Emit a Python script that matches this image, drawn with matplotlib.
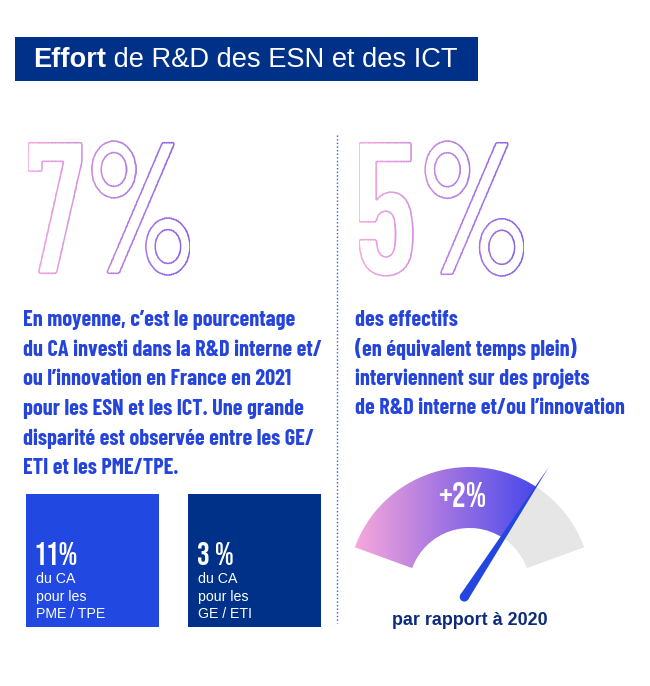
import numpy as np
import matplotlib
matplotlib.use("Agg")
import matplotlib.pyplot as plt
from matplotlib.patches import Rectangle, Wedge, PathPatch, Polygon, Circle
from matplotlib.textpath import TextPath
from matplotlib.font_manager import FontProperties
from matplotlib.transforms import Affine2D

# ---------------- data ----------------
title_bold = "Effort"
title_rest = " de R&D des ESN et des ICT"
big_values = ["7%", "5%"]
left_lines = [
    "En moyenne, c’est le pourcentage",
    "du CA investi dans la R&D interne et/",
    "ou l’innovation en France en 2021",
    "pour les ESN et les ICT. Une grande",
    "disparité est observée entre les GE/",
    "ETI et les PME/TPE.",
]
right_lines = [
    "des effectifs",
    "(en équivalent temps plein)",
    "interviennent sur des projets",
    "de R&D interne et/ou l’innovation",
]
box_values = ["11%", "3 %"]
box_labels = [["du CA", "pour les", "PME / TPE"], ["du CA", "pour les", "GE / ETI"]]
gauge_label = "+2%"
gauge_fill = 0.736
gauge_caption = "par rapport à 2020"

# ---------------- style ----------------
NAVY = "#003189"
BOX_BLUE = "#2148e0"
TEXT_BLUE = "#2544dc"
NEEDLE = "#2446e0"
CAPTION = "#0d2a7c"
GREY = "#e6e6e6"
PINK = np.array([248, 170, 224]) / 255
PURPLE = np.array([136, 98, 228]) / 255

COND = "Barlow Condensed"
NUM = "Bebas Neue"
SANS = "Liberation Sans"

fig = plt.figure(figsize=(6.5, 6.86), dpi=100)
ax = fig.add_axes([0, 0, 1, 1])
ax.set_xlim(0, 650)
ax.set_ylim(686, 0)
ax.axis("off")

# ---------------- title ----------------
ax.add_patch(Rectangle((15, 37), 463, 44, facecolor=NAVY, edgecolor="none", zorder=1))
t1 = ax.text(33, 67, title_bold, family=SANS, weight="bold", fontsize=19.6,
             color="white", va="baseline", ha="left", zorder=2)
renderer = fig.canvas.get_renderer()
bb = t1.get_window_extent(renderer)
ax.text(bb.x1, 67, title_rest, family=SANS, fontsize=19.6, color="white",
        va="baseline", ha="left", zorder=2)


def fit(s, fp, left, top, bottom):
    tp = TextPath((0, 0), s, size=100, prop=fp)
    ext = tp.get_extents()
    scale = (bottom - top) / (ext.y1 - ext.y0)
    x0 = left - ext.x0 * scale
    base = bottom + ext.y0 * scale
    return tp, ext, scale, x0, base


def fitted_text(s, family, weight, left, top, bottom, color, zorder=2):
    fp = FontProperties(family=family, weight=weight)
    tp, ext, scale, x0, base = fit(s, fp, left, top, bottom)
    fp2 = fp.copy()
    fp2.set_size(100 * scale * 72 / 100)
    ax.text(x0, base, s, fontproperties=fp2, color=color, va="baseline",
            ha="left", zorder=zorder)


def outline_text(s, left, right, top, bottom, c0, c1, lw_px=1.5):
    fp = FontProperties(family=COND, weight=600)
    tp, ext, scale, x0, base = fit(s, fp, left, top, bottom)
    fp2 = fp.copy()
    fp2.set_size(100 * scale * 72 / 100)
    # the real text (white on white) underneath the gradient outline
    ax.text(x0, base, s, fontproperties=fp2, color="white", va="baseline",
            ha="left", zorder=2)
    sx = (right - left) / ((ext.x1 - ext.x0) * scale)
    path = tp.transformed(Affine2D().translate(-ext.x0, 0)
                          .scale(scale * sx, -scale).translate(left, base))
    width = right - left
    N = 70
    for i in range(N):
        xa = left + width * i / N - 0.4
        rect = Rectangle((xa, top - 6), width / N + 0.8, bottom - top + 12,
                         transform=ax.transData)
        col = c0 + (c1 - c0) * (i + 0.5) / N
        p = PathPatch(path, facecolor="none", edgecolor=col, lw=lw_px * 0.72, zorder=3)
        ax.add_patch(p)
        p.set_clip_path(rect)


outline_text(big_values[0], 28, 190, 141, 275, PINK, PURPLE)
outline_text(big_values[1], 359, 524, 141, 276, PINK, PURPLE)

# ---------------- divider ----------------
ax.plot([337, 337], [135, 623], color="#3a5bd0", lw=1.0, ls=(0, (1, 1.6)), zorder=1)

# ---------------- body texts ----------------
for i, line in enumerate(left_lines):
    ax.text(23, 320 + 29.6 * i, line, family=COND, weight=700, fontsize=16.0,
            color=TEXT_BLUE, va="center", ha="left", zorder=2)
for i, line in enumerate(right_lines):
    ax.text(355, 320 + 29.4 * i, line, family=COND, weight=700, fontsize=16.0,
            color=TEXT_BLUE, va="center", ha="left", zorder=2)

# ---------------- boxes ----------------
box_x = [26, 188]
box_col = [BOX_BLUE, NAVY]
for k in range(2):
    ax.add_patch(Rectangle((box_x[k], 494), 133, 133, facecolor=box_col[k],
                           edgecolor="none", zorder=1))
    fitted_text(box_values[k], NUM, "normal", box_x[k] + 10, 542, 565, "white")
    for j, lab in enumerate(box_labels[k]):
        ax.text(box_x[k] + 10, 583 + 17.7 * j, lab, family=SANS, fontsize=10.2,
                color="white", va="baseline", ha="left", zorder=2)

# ---------------- gauge ----------------
cx, cy = 469.5, 589.0
R, r = 122.0, 61.0
a_start, a_end = 160.0, 20.0
a_needle = a_start - gauge_fill * (a_start - a_end)

grey = Wedge((cx, cy), R, -a_needle, -a_end, width=R - r, facecolor=GREY,
             edgecolor="none", zorder=1)
ax.add_patch(grey)
wedge = Wedge((cx, cy), R, -a_start, -a_needle, width=R - r, facecolor="none",
              edgecolor="none", zorder=1)
ax.add_patch(wedge)

stops_x = np.array([354, 400, 440, 480, 515, 545])
stops_c = np.array([
    [248, 168, 220],
    [205, 142, 222],
    [165, 118, 226],
    [128, 100, 230],
    [92, 82, 233],
    [66, 70, 234],
]) / 255
xs = np.linspace(cx - R, cx + R, 500)
img = np.stack([np.interp(xs, stops_x, stops_c[:, c]) for c in range(3)], axis=-1)[None, :, :]
im = ax.imshow(img, extent=[cx - R, cx + R, cy + 10, cy - R - 2], aspect="auto",
               interpolation="bilinear", zorder=1.5)
im.set_clip_path(wedge)
ax.set_xlim(0, 650)
ax.set_ylim(686, 0)

# needle
th = np.deg2rad(a_needle)
d = np.array([np.cos(th), -np.sin(th)])
perp = np.array([np.sin(th), np.cos(th)])
c = np.array([cx, cy])
tail = c - 9.5 * d
tip = c + 146 * d
ax.add_patch(Polygon([tail + 4.6 * perp, tip, tail - 4.6 * perp], closed=True,
                     facecolor=NEEDLE, edgecolor="none", zorder=4))
ax.add_patch(Circle(tail, 4.6, facecolor=NEEDLE, edgecolor="none", zorder=4))

fitted_text(gauge_label, NUM, "normal", 439, 482, 507, "white", zorder=5)

ax.text(470, 625, gauge_caption, family=SANS, weight="bold", fontsize=12.9,
        color=CAPTION, va="baseline", ha="center", zorder=5)

fig.savefig("out.png", dpi=100)
